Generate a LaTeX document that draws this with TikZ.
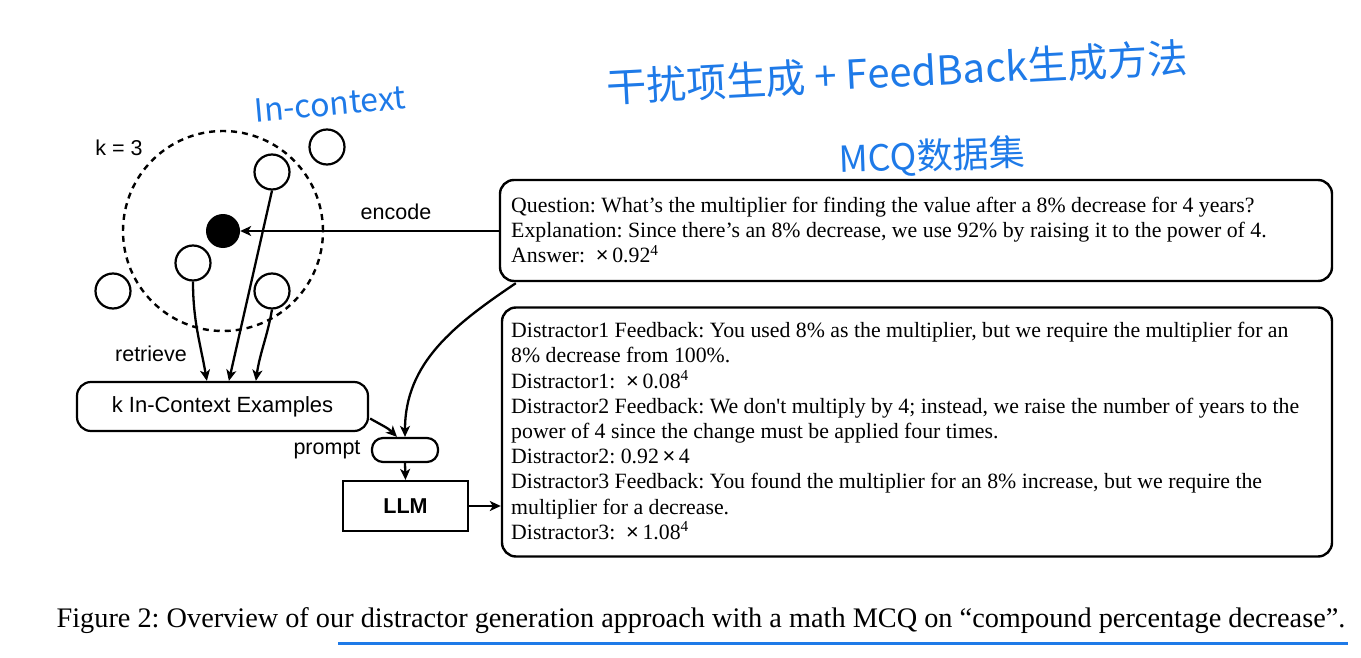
\documentclass[tikz,border=0pt]{standalone}
\usepackage{fontspec}
\setmainfont{Liberation Serif}
\newfontfamily\hv{Liberation Sans}
\newfontfamily\cjk{Noto Sans CJK SC}
\usetikzlibrary{arrows.meta,calc}
\definecolor{hand}{RGB}{30,122,232}
\frenchspacing
\newcommand{\sq}{{\addfontfeature{Ligatures=TeXOff}'}}
\newcommand{\tms}{{\hv ×}}
\begin{document}
\begin{tikzpicture}[x=1pt,y=1pt,
  arr/.style={-{Stealth[length=11pt,width=10pt,inset=3pt]}, line width=2.3pt},
  dot/.style={circle,draw,line width=2.2pt,minimum size=35pt,inner sep=0pt},
  lab/.style={font=\hv\fontsize{21.5}{24}\selectfont, inner sep=0pt},
  bx/.style={draw,line width=2.4pt,rounded corners=14pt,inner sep=0pt},
  body/.style={align=left, inner sep=0pt, anchor=west, font=\fontsize{21.8}{25.2}\selectfont},
  hw/.style={text=hand, inner sep=0pt}]
\useasboundingbox (0,0) rectangle (1361,-658);
% handwritten notes
\node[hw, font=\cjk\fontsize{40}{40}\selectfont, rotate=3] (n1) at (897,-72) {干扰项生成 + FeedBack生成方法};
\node[hw, font=\cjk\fontsize{36}{36}\selectfont, rotate=2] (n2) at (932,-157) {MCQ数据集};
\node[hw, font=\cjk\fontsize{32}{32}\selectfont, rotate=5] (n3) at (330,-104) {In-context};
% neighbourhood
\node[circle, draw, dash pattern=on 6pt off 5pt, line width=2.4pt, minimum size=200pt, inner sep=0pt] (nb) at (223,-231) {};
\node[dot] (c1) at (327,-147) {};
\node[dot] (c2) at (272,-172) {};
\node[dot] (c3) at (193,-263) {};
\node[dot] (c4) at (272,-291) {};
\node[dot] (c5) at (113,-291) {};
\node[circle, fill=black, minimum size=34pt, inner sep=0pt] (blk) at (223,-231) {};
\node[lab] (k3) at (119,-148) {k = 3};
\node[lab] (enc) at (396,-212) {encode};
\node[lab] (ret) at (151,-354) {retrieve};
\node[lab] (pl) at (327,-450) {prompt};
% boxes
\node[bx, line width=2.2pt, minimum width=291pt, minimum height=49pt, font=\hv\fontsize{22}{24}\selectfont] (kb) at (222.5,-406.5) {k In-Context Examples};
\node[bx, line width=2.2pt, rounded corners=11pt, minimum width=66pt, minimum height=24pt] (pr) at (405,-450) {};
\node[draw, line width=2.2pt, minimum width=125pt, minimum height=50pt, inner sep=0pt, font=\hv\bfseries\fontsize{21.5}{24}\selectfont] (llm) at (405.5,-506) {LLM};
\node[bx, minimum width=832pt, minimum height=101pt] (q) at (916,-230.5) {};
\node[body] (qt) at (511,-230) {Question: What’s the multiplier for finding the value after a 8\% decrease for 4 years?\\
Explanation: Since there’s an 8\% decrease, we use 92\% by raising it to the power of 4.\\
Answer:\ \ \tms\,0.92\textsuperscript{4}};
\node[bx, minimum width=830pt, minimum height=249pt] (d) at (917,-432) {};
\node[body] (dt) at (511,-431) {Distractor1 Feedback: You used 8\% as the multiplier, but we require the multiplier for an\\
8\% decrease from 100\%.\\
Distractor1:\ \ \tms\,0.08\textsuperscript{4}\\
Distractor2 Feedback: We don\sq t multiply by 4; instead, we raise the number of years to the\\
power of 4 since the change must be applied four times.\\
Distractor2: 0.92\,\tms\,4\\
Distractor3 Feedback: You found the multiplier for an 8\% increase, but we require the\\
multiplier for a decrease.\\
Distractor3:\ \ \tms\,1.08\textsuperscript{4}};
% connectors
\coordinate (t1) at ($(kb.north west)+(131,0)$);
\coordinate (t2) at ($(kb.north west)+(153,0)$);
\coordinate (t3) at ($(kb.north west)+(180,0)$);
\draw[arr] (q.west |- blk.east) -- (blk.east);
\draw[arr] (c3.south) to[out=-90,in=100] (t1);
\draw[arr] (c2.south) -- (t2);
\draw[arr] (c4.south) to[out=-100,in=82] (t3);
\coordinate (ks) at ($(kb.east)+(1,-12)$);
\coordinate (pn) at ($(pr.north)+(-8,0)$);
\draw[arr] (ks) to[out=-30,in=135] (pn);
\coordinate (qs) at ($(q.south west)+(17,-1)$);
\draw[arr] (qs) to[out=-146,in=90] (pr.north);
\draw[arr] (pr.south) -- (llm.north);
\draw[arr] (llm.east) -- (llm.east -| d.west);
% caption
\node[inner sep=0pt, font=\fontsize{28.3}{32}\selectfont] (cap) at (701,-621) {Figure 2: Overview of our distractor generation approach with a math MCQ on “compound percentage decrease”.};
\coordinate (u1) at (338,-643);
\coordinate (u2) at (1348,-643);
\draw[hand, line width=3pt] (u1) -- (u2);
\end{tikzpicture}
\end{document}
